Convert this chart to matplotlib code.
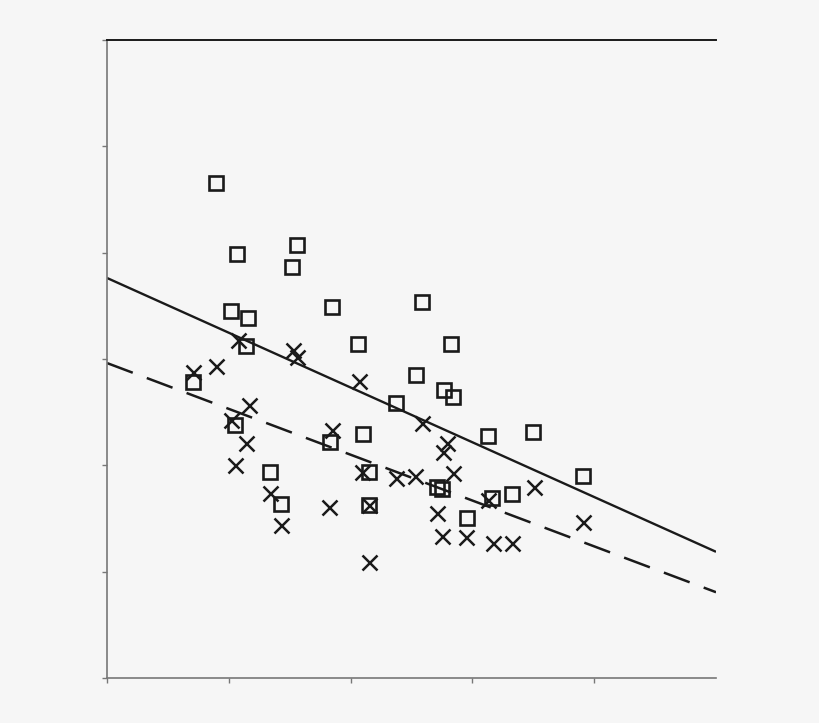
import matplotlib
matplotlib.use("Agg")
import matplotlib.pyplot as plt
import numpy as np

# group 1 (open squares)
sq_x = [0.895, 1.067, 1.560, 1.519, 1.018, 1.158, 1.141, 1.847, 2.586, 2.061,
        2.824, 0.706, 2.537, 2.767, 2.841, 2.373, 1.051, 2.102, 1.831, 3.128,
        3.498, 1.338, 2.151, 2.709, 2.750, 1.429, 2.151, 3.161, 3.325, 2.956,
        3.908]
sq_y = [4.655, 3.988, 4.072, 3.865, 3.452, 3.386, 3.122, 3.489, 3.536, 3.141,
        3.141, 2.784, 2.850, 2.709, 2.643, 2.586, 2.379, 2.295, 2.220, 2.276,
        2.314, 1.937, 1.937, 1.796, 1.777, 1.636, 1.627, 1.693, 1.730, 1.505,
        1.900]

# group 2 (crosses)
x_x = [0.706, 0.895, 1.076, 1.527, 1.560, 2.069, 1.166, 1.018, 1.141, 1.051,
       1.338, 1.429, 1.847, 2.586, 2.791, 2.759, 2.094, 2.373, 2.529, 2.841,
       2.709, 2.750, 2.947, 1.823, 2.151, 2.151, 3.128, 3.506, 3.908, 3.169,
       3.325]
x_y = [2.878, 2.934, 3.179, 3.085, 3.019, 2.793, 2.567, 2.426, 2.210, 2.003,
       1.740, 1.439, 2.332, 2.398, 2.210, 2.125, 1.937, 1.881, 1.900, 1.928,
       1.552, 1.335, 1.326, 1.608, 1.627, 1.091, 1.674, 1.796, 1.467, 1.270,
       1.270]

# fitted lines: intercept, slope
fit_sq = (3.762, -0.515)
fit_x = (2.962, -0.431)

ink = '#1a1a1a'
bg = '#f6f6f6'

fig = plt.figure(figsize=(8.2, 7.23), dpi=100, facecolor=bg)
ax = fig.add_axes([0.1305, 0.0622, 0.8732 - 0.1305, 0.9447 - 0.0622])
ax.set_facecolor(bg)

xs = np.array([0, 5])
ax.plot(xs, fit_sq[0] + fit_sq[1] * xs, color=ink, lw=1.7, solid_capstyle='butt')
ax.plot(xs, fit_x[0] + fit_x[1] * xs, color=ink, lw=1.8, dashes=(11, 6))

ax.plot(sq_x, sq_y, 's', ms=9.8, mfc='none', mec=ink, mew=1.9)
ax.plot(x_x, x_y, 'x', ms=10.8, mec=ink, mew=1.8)

ax.set_xlim(0, 5)
ax.set_ylim(0, 6)
ax.set_xticks([0, 1, 2, 3, 4])
ax.set_yticks([0, 1, 2, 3, 4, 5, 6])
ax.set_xticklabels([])
ax.set_yticklabels([])
ax.tick_params(axis='both', direction='out', length=3.5, width=1, color='#777777')

ax.spines['right'].set_visible(False)
ax.spines['top'].set_color(ink)
ax.spines['top'].set_linewidth(1.4)
ax.spines['left'].set_color('#777777')
ax.spines['bottom'].set_color('#777777')
ax.spines['left'].set_linewidth(1.2)
ax.spines['bottom'].set_linewidth(1.2)

fig.savefig('out.png', dpi=100, facecolor=bg)
